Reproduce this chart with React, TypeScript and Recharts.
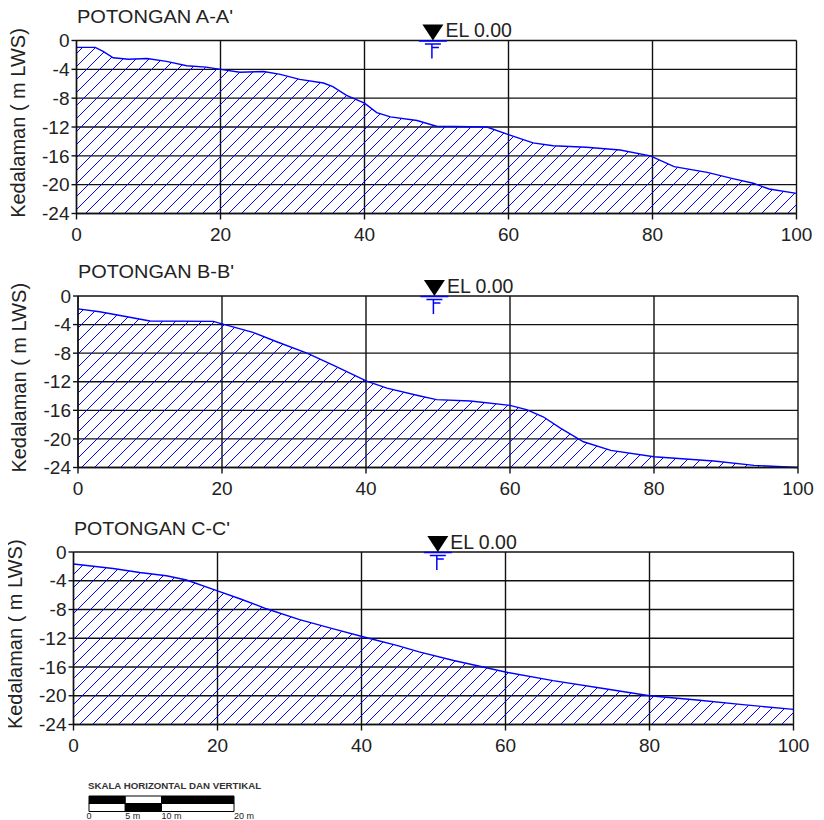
import React from 'react';
import { AreaChart, Area, XAxis, YAxis, CartesianGrid, ReferenceDot, BarChart, Bar, Cell } from 'recharts';

const xTicks = [0, 20, 40, 60, 80, 100];
const yTicks = [0, -4, -8, -12, -16, -20, -24];

const sectionAX = [0, 2.6, 3.7, 5.1, 7.2, 9.8, 12.5, 15.3, 18, 20, 22.7, 26, 28.3, 31, 34.3, 35.6, 37.5, 40, 41.7, 43.6, 47.3, 50, 57, 60, 63.4, 66.2, 70.8, 75.5, 79.7, 83, 87.6, 91.3, 94, 96.2, 100];
const sectionADepth = [-0.95, -0.95, -1.5, -2.4, -2.6, -2.5, -2.9, -3.5, -3.7, -4, -4.4, -4.3, -4.7, -5.4, -5.9, -6.4, -7.6, -8.7, -10, -10.6, -11.1, -11.9, -12, -13.05, -14.2, -14.6, -14.8, -15.2, -16, -17.5, -18.3, -19.2, -19.8, -20.6, -21.2];

const sectionBX = [0, 3, 6.8, 10, 18.8, 20, 24.3, 27.6, 31.8, 35.5, 40.1, 42.9, 47.5, 49.8, 54.5, 60, 62.3, 64.6, 67, 70.2, 74, 80, 88.3, 93.9, 100];
const sectionBDepth = [-1.8, -2.2, -2.9, -3.5, -3.55, -3.9, -5.1, -6.4, -8, -9.7, -11.9, -12.9, -14, -14.5, -14.7, -15.3, -15.9, -16.9, -18.5, -20.4, -21.6, -22.5, -23.1, -23.7, -24];

const sectionCX = [0, 5.5, 9.2, 12.9, 15.7, 20, 23.1, 26.8, 31.4, 36.1, 41, 44.9, 48, 52.8, 60, 66.6, 73.6, 80, 86.6, 92.6, 100];
const sectionCDepth = [-1.67, -2.3, -2.85, -3.3, -3.9, -5.4, -6.5, -7.9, -9.4, -10.7, -12, -13, -13.9, -15.1, -16.7, -17.9, -19, -20, -20.6, -21.2, -21.9];

const scaleTicks = [0, 5, 10, 20];
const scaleTickLabels = ['0', '5 m', '10 m', '20 m'];
const scaleFirst = [5, 5];
const scaleSecond = [5, 5];
const scaleThird = [10, 10];

const FONT = '"Liberation Sans", Arial, sans-serif';
const INK = '#111';
const TEXT = '#222';
const BLUE = '#0000ff';

function table(xs: number[], ds: number[]) {
  return xs.map((x, i) => ({ x, depth: ds[i] }));
}

function marker(props: any) {
  const { cx, cy } = props;
  return (
    <g>
      <path d={`M${cx - 10.5} ${cy - 16} L${cx + 10.5} ${cy - 16} L${cx} ${cy} Z`} fill="#000" />
      <path
        d={`M${cx - 14} ${cy + 0.5} H${cx + 14} M${cx - 8} ${cy + 3.5} H${cx + 8} M${cx - 1} ${cy + 7} H${cx + 6} M${cx - 1} ${cy + 3.5} V${cy + 18}`}
        stroke={BLUE}
        strokeWidth={1.5}
        fill="none"
      />
      <text x={cx + 12.5} y={cy - 3.5} fontFamily={FONT} fontSize={19.5} fill={TEXT}>EL 0.00</text>
    </g>
  );
}

function scaleTick(props: any) {
  const { x, y, payload } = props;
  const v = payload.value;
  return (
    <text x={x} y={y + 7.5} textAnchor={v === 0 ? 'middle' : 'start'} fontFamily={FONT} fontSize={9} fill="#222">
      {scaleTickLabels[scaleTicks.indexOf(v)]}
    </text>
  );
}

function Section(props: any) {
  const { id, title, xs, ds, top, plotTop, plotBottom, plotLeft, plotRight, markX, titleX, titleY, labelX } = props;
  const h = 250;
  const w = 824;
  return (
    <div style={{ position: 'absolute', left: 0, top, width: w, height: h }}>
      <AreaChart
        width={w}
        height={h}
        data={table(xs, ds)}
        margin={{ top: plotTop - top, bottom: h - (plotBottom - top) - 30, left: 0, right: w - plotRight }}
      >
        <defs>
          <pattern id={id} patternUnits="userSpaceOnUse" width={13} height={13}>
            <path d="M-1 14 L14 -1 M-1 1 L1 -1 M12 14 L14 12" stroke={BLUE} strokeWidth={1} fill="none" />
          </pattern>
        </defs>
        <CartesianGrid stroke={INK} strokeWidth={1.4} horizontal vertical syncWithTicks />
        <XAxis
          dataKey="x"
          type="number"
          domain={[0, 100]}
          ticks={xTicks}
          interval={0}
          height={30}
          stroke={INK}
          strokeWidth={1.4}
          tickSize={6}
          tickMargin={8}
          tick={{ fontFamily: FONT, fontSize: 19, fill: TEXT }}
        />
        <YAxis
          type="number"
          domain={[-24, 0]}
          ticks={yTicks}
          interval={0}
          width={plotLeft}
          stroke={INK}
          strokeWidth={1.4}
          tickSize={5}
          tickMargin={2}
          tick={{ fontFamily: FONT, fontSize: 19, fill: TEXT }}
        />
        <Area
          type="linear"
          dataKey="depth"
          baseValue={-24}
          stroke={BLUE}
          strokeWidth={1.4}
          fill={`url(#${id})`}
          fillOpacity={1}
          dot={false}
          activeDot={false}
          isAnimationActive={false}
        />
        <ReferenceDot x={markX} y={0} r={1} ifOverflow="visible" shape={marker} />
        <text x={titleX} y={titleY - top} fontFamily={FONT} fontSize={19} fill={TEXT} textLength={156} lengthAdjust="spacingAndGlyphs">{title}</text>
        <text
          transform={`translate(${labelX} ${(plotTop + plotBottom) / 2 - top - 4}) rotate(-90)`}
          textAnchor="middle"
          fontFamily={FONT}
          fontSize={20}
          fill={TEXT}
        >
          Kedalaman ( m LWS)
        </text>
      </AreaChart>
    </div>
  );
}

const scaleRows = [
  { row: 'atas', a: scaleFirst[0], b: scaleSecond[0], c: scaleThird[0] },
  { row: 'bawah', a: scaleFirst[1], b: scaleSecond[1], c: scaleThird[1] },
];

function ScaleBar() {
  const fills = (first: string, second: string) => [first, second].map((f, i) => <Cell key={i} fill={f} />);
  return (
    <div style={{ position: 'absolute', left: 0, top: 775, width: 300, height: 45 }}>
      <BarChart
        width={300}
        height={45}
        layout="vertical"
        data={scaleRows}
        barCategoryGap={0}
        margin={{ top: 21, bottom: 0, left: 89, right: 66 }}
      >
        <XAxis
          type="number"
          domain={[0, 20]}
          ticks={scaleTicks}
          interval={0}
          height={9}
          axisLine={false}
          tickLine={false}
          tickSize={0}
          tickMargin={0}
          tick={scaleTick}
        />
        <YAxis type="category" dataKey="row" hide />
        <Bar dataKey="a" stackId="s" stroke="#000" isAnimationActive={false}>{fills('#000', '#fff')}</Bar>
        <Bar dataKey="b" stackId="s" stroke="#000" isAnimationActive={false}>{fills('#fff', '#000')}</Bar>
        <Bar dataKey="c" stackId="s" stroke="#000" isAnimationActive={false}>{fills('#000', '#fff')}</Bar>
      </BarChart>
      <div style={{ position: 'absolute', left: 88, top: 5, fontFamily: FONT, fontSize: 9.7, fontWeight: 700, color: '#333', whiteSpace: 'nowrap' }}>
        SKALA HORIZONTAL DAN VERTIKAL
      </div>
    </div>
  );
}

export default function App() {
  return (
    <div style={{ position: 'relative', width: 816, height: 812 }}>
      <div style={{ position: 'absolute', left: -8, top: -8, width: 824, height: 820 }}>
        <Section id="hatchA" title="POTONGAN A-A'" xs={sectionAX} ds={sectionADepth} top={0} plotTop={40.5} plotBottom={213.5} plotLeft={76.5} plotRight={796.5} markX={49.5} titleX={77} titleY={23} labelX={25} />
        <Section id="hatchB" title="POTONGAN B-B'" xs={sectionBX} ds={sectionBDepth} top={250} plotTop={296} plotBottom={467.5} plotLeft={78} plotRight={798} markX={49.5} titleX={78} titleY={278} labelX={26} />
        <Section id="hatchC" title="POTONGAN C-C'" xs={sectionCX} ds={sectionCDepth} top={505} plotTop={552} plotBottom={724.5} plotLeft={73.5} plotRight={793.5} markX={50.6} titleX={74} titleY={534.5} labelX={21.5} />
        <ScaleBar />
      </div>
    </div>
  );
}
